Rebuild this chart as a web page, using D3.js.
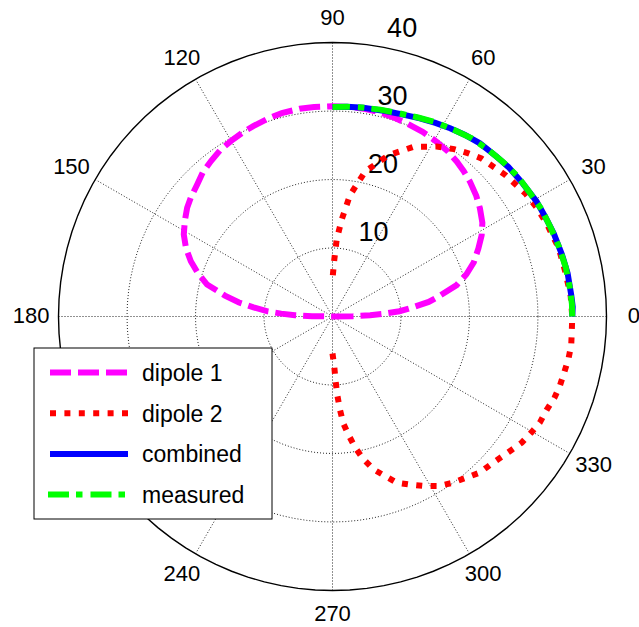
<!DOCTYPE html>
<html>
<head>
<meta charset="utf-8">
<script src="https://cdn.jsdelivr.net/npm/d3@7/dist/d3.min.js"></script>
<style>
  body { margin: 0; background: #fff; }
  svg { display: block; }
  text { font-family: "Liberation Sans", Arial, Helvetica, sans-serif; fill: #000; }
</style>
</head>
<body>
<div id="chart"></div>
<script>
// angles in degrees (counter-clockwise from east), radius in the plot's units
var dipole1Angles = [0, 1, 2, 3, 4.5, 6.5, 8.6, 11, 14.2, 17.5, 21, 25, 28.6, 32, 36.3, 40, 44.4, 48, 51.3, 55, 59.2, 64, 69, 73, 77, 81, 85, 90,
    95, 99, 104, 108, 112.6, 116, 120, 124, 128, 132, 135.7, 140, 143.2, 147, 151.1, 155, 158.7, 162, 165.7, 169, 171.5, 173.4, 175.5, 176.8, 178, 179, 180]
var dipole1Values = [0, 3, 5.5, 7.5, 9.8, 11.8, 14.2, 16.0, 18.7, 20.5, 22.1, 23.5, 24.8, 25.8, 26.7, 27.4, 28.1, 28.6, 29.0, 29.4, 29.7, 30.0, 30.2, 30.4, 30.6, 30.65, 30.7, 30.7,
    30.7, 30.7, 30.6, 30.4, 30.1, 29.9, 29.6, 29.3, 28.8, 28.3, 27.6, 27.0, 26.5, 25.7, 24.8, 23.6, 22.2, 20.7, 18.9, 16.0, 13.8, 11.6, 9.5, 7.5, 5.5, 3, 0]

var dipole2Angles = [-90, -88, -87.2, -86.5, -85.4, -84.2, -82.1, -80.2, -77.8, -75, -71.8, -68.9, -65, -61.4, -58, -54.4, -50.7, -46.8, -43.3, -39.6, -36.7, -33.7, -30.3, -27.1, -23.6, -20.2, -16.8, -13.4, -10.1, -6.8, -3.6, 0,
    5, 11, 16.8, 23.1, 28, 32.6, 39.4, 46.7, 50.2, 54, 58.5, 64.6, 70.9, 77.3, 81.8, 84.6, 86.9, 88.2, 89.7, 90]
var dipole2Values = [5.4, 7.3, 9.5, 11.5, 13.7, 15.7, 17.6, 19.4, 21.3, 23.1, 24.5, 26.0, 27.1, 28.2, 29.2, 29.9, 30.5, 31.3, 31.6, 32.1, 32.6, 33.2, 33.6, 34.0, 34.1, 34.5, 34.7, 34.8, 35.0, 35.1, 35.0, 35.0,
    34.9, 34.6, 34.5, 34.1, 33.8, 33.4, 32.6, 31.7, 31.0, 30.2, 29.1, 27.4, 24.9, 21.7, 17.9, 14.2, 11.2, 8.3, 5.8, 5.4]

var combinedAngles = [0, 2.3, 5, 10.4, 15, 20.5, 25, 29.5, 35, 40.4, 44.2, 49.6, 54, 58, 62, 66.2, 71, 75.2, 81.6, 86, 90]
var combinedValues = [35.0, 35.1, 35.0, 34.9, 34.7, 34.5, 34.3, 34.2, 33.9, 33.7, 33.45, 33.2, 32.8, 32.4, 32.0, 31.6, 31.2, 31.0, 30.8, 30.7, 30.6]

var measuredAngles = [0, 3, 7, 12, 17, 22, 27, 32, 37, 42, 47, 52, 57, 62, 67, 72, 77, 82, 86, 90]
var measuredValues = [35.0, 35.0, 34.9, 34.8, 34.6, 34.4, 34.3, 34.0, 33.9, 33.6, 33.3, 33.0, 32.5, 32.1, 31.6, 31.2, 31.0, 30.8, 30.7, 30.6]

var ringTicks = [10, 20, 30, 40]
var spokeAngles = [0, 30, 60, 90, 120, 150, 180, 210, 240, 270, 300, 330]
var legendLabels = ['dipole 1', 'dipole 2', 'combined', 'measured']

var width = 639, height = 627
var cx = 332.5, cy = 316.5

var svg = d3.select('#chart').append('svg')
    .attr('width', width)
    .attr('height', height)

svg.append('rect').attr('width', width).attr('height', height).attr('fill', '#fff')

var g = svg.append('g')
    .attr('transform', 'translate(' + cx + ',' + cy + ')')

var r = d3.scaleLinear().domain([0, 40]).range([0, 274])

function rad(deg) { return (90 - deg) * Math.PI / 180 }

var radial = d3.lineRadial()
    .angle(function (d) { return rad(d[0]) })
    .radius(function (d) { return r(d[1]) })

function zipSeries(angles, values) {
    return angles.map(function (a, i) { return [a, values[i]] })
}

// grid rings
var circleSteps = d3.range(0, 360, 3.6)
ringTicks.slice(0, -1).forEach(function (t) {
    g.append('path')
        .attr('d', radial.curve(d3.curveLinearClosed)(circleSteps.map(function (a) { return [a, t] })))
        .attr('fill', 'none')
        .attr('stroke', '#222')
        .attr('stroke-width', 1)
        .attr('stroke-dasharray', '1,2')
})

// spokes
g.selectAll('.spoke')
    .data(spokeAngles)
    .enter()
    .append('line')
    .attr('class', 'spoke')
    .attr('x1', 0).attr('y1', 0)
    .attr('x2', function (d) { return r(40) * Math.cos(d * Math.PI / 180) })
    .attr('y2', function (d) { return -r(40) * Math.sin(d * Math.PI / 180) })
    .attr('stroke', '#222')
    .attr('stroke-width', 1)
    .attr('stroke-dasharray', '1,2')

// outer circle
g.append('path')
    .attr('d', radial.curve(d3.curveLinearClosed)(circleSteps.map(function (a) { return [a, 40] })))
    .attr('fill', 'none')
    .attr('stroke', '#000')
    .attr('stroke-width', 1.4)

// angle labels (slightly flattened vertically, like the reference)
g.selectAll('.alabel')
    .data(spokeAngles)
    .enter()
    .append('text')
    .attr('class', 'alabel')
    .attr('x', function (d) { return 301.4 * Math.cos(d * Math.PI / 180) })
    .attr('y', function (d) { return -298 * Math.sin(d * Math.PI / 180) + 6.5 })
    .attr('text-anchor', 'middle')
    .attr('font-size', '22px')
    .text(function (d) { return d })

// ring labels at 82 degrees
var c82 = Math.cos(82 * Math.PI / 180), s82 = Math.sin(82 * Math.PI / 180)
g.selectAll('.rlabel')
    .data(ringTicks)
    .enter()
    .append('text')
    .attr('class', 'rlabel')
    .attr('x', function (d) { return r(d + 0.5) * c82 + 16 })
    .attr('y', function (d) { return -r(d + 0.5) * s82 - 4.5 })
    .attr('font-size', '27px')
    .text(function (d) { return d })

// series
var series = [
    { data: zipSeries(dipole1Angles, dipole1Values), color: '#ff00ff', dash: '21,7' },
    { data: zipSeries(dipole2Angles, dipole2Values), color: '#ff0000', dash: '6,8.4' },
    { data: zipSeries(combinedAngles, combinedValues), color: '#0000ff', dash: null },
    { data: zipSeries(measuredAngles, measuredValues), color: '#00ff00', dash: '21,7,6.5,8' }
]

radial.curve(d3.curveLinear)
series.forEach(function (s) {
    g.append('path')
        .attr('d', radial(s.data))
        .attr('fill', 'none')
        .attr('stroke', s.color)
        .attr('stroke-width', 6)
        .attr('stroke-dasharray', s.dash)
})

// legend
var legend = svg.append('g').attr('transform', 'translate(34,348)')
legend.append('rect')
    .attr('width', 238)
    .attr('height', 171)
    .attr('fill', '#fff')
    .attr('stroke', '#000')
    .attr('stroke-width', 1)

var item = legend.selectAll('.item')
    .data(series)
    .enter()
    .append('g')
    .attr('class', 'item')
    .attr('transform', function (d, i) { return 'translate(0,' + (24.5 + i * 40.7) + ')' })

item.append('line')
    .attr('x1', function (d, i) { return i == 3 ? 14 : 16 })
    .attr('x2', 94)
    .attr('stroke', function (d) { return d.color })
    .attr('stroke-width', 6)
    .attr('stroke-dasharray', function (d) { return d.dash })

item.append('text')
    .attr('x', 108)
    .attr('y', 8.5)
    .attr('font-size', '23px')
    .text(function (d, i) { return legendLabels[i] })
</script>
</body>
</html>
